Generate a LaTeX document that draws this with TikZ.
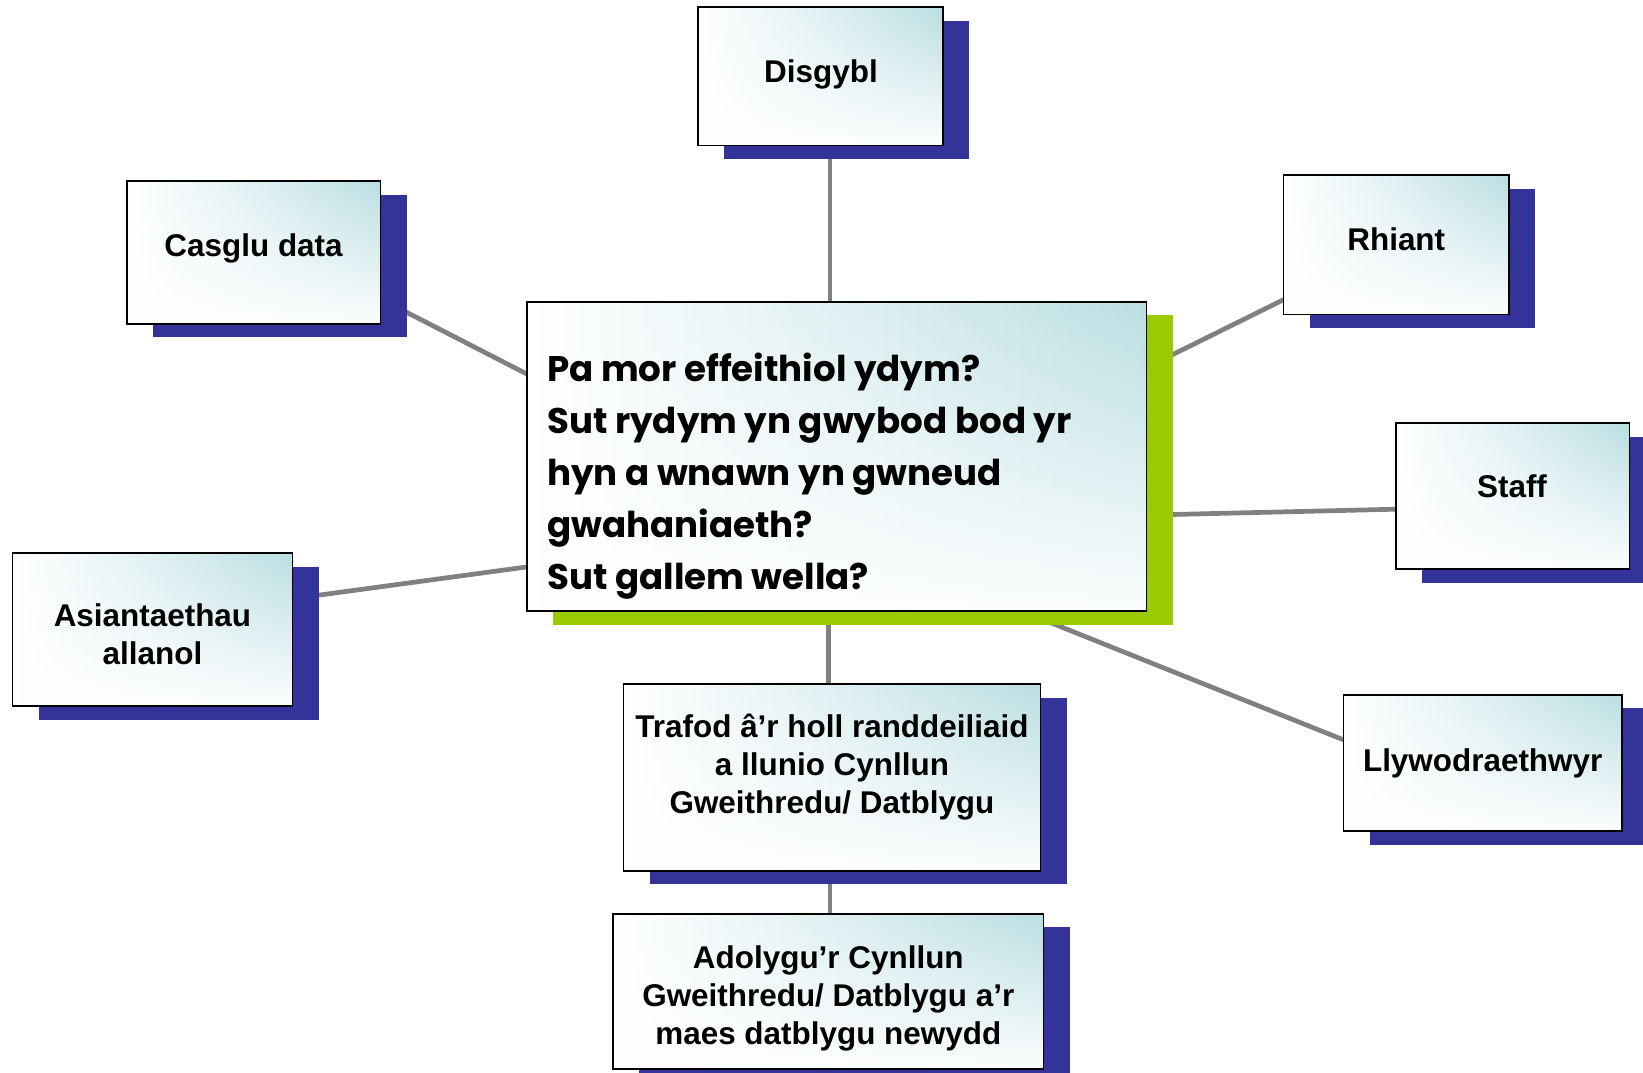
\documentclass[tikz,border=0pt]{standalone}
\usepackage{fontspec}
\setmainfont{Liberation Sans}
\newfontfamily\comicfont{Poppins}
\usetikzlibrary{shadows,fadings}
\definecolor{tealc}{RGB}{186,222,226}
\definecolor{shadowblue}{RGB}{51,51,153}
\definecolor{limeg}{RGB}{153,204,0}
\definecolor{linegray}{RGB}{128,128,128}
\tikzfading[name=fadeup, top color=transparent!100, middle color=transparent!55, bottom color=transparent!5]
\pgfdeclarelayer{bg}
\pgfsetlayers{bg,main}
\tikzset{
  boxbase/.style={rectangle, draw=black, line width=1.6pt, inner sep=0pt},
  boxfill/.style={preaction={left color=white, right color=tealc, middle color=tealc!45!white},
    preaction={fill=white, path fading=fadeup}},
  bluebox/.style={boxbase, general shadow={fill=shadowblue, shadow xshift=25pt, shadow yshift=-13pt}, boxfill},
  greenbox/.style={boxbase, general shadow={fill=limeg, shadow xshift=25pt, shadow yshift=-13pt}, boxfill},
  lbl/.style={font=\fontsize{30}{36}\selectfont\bfseries, align=center, inner sep=0pt},
  lblone/.style={lbl, text height=22pt, text depth=6pt},
  ctext/.style={font=\fontsize{34}{49.6}\selectfont\comicfont\bfseries, align=left, inner sep=0pt},
  conn/.style={draw=linegray, line width=4.5pt},
}
\begin{document}
\begin{tikzpicture}[x=1pt,y=1pt]
\useasboundingbox (0,0) rectangle (1568,-1024);
% boxes
\node[bluebox, minimum width=234pt, minimum height=132pt] (dis) at (783,-73) {};
\node[bluebox, minimum width=242pt, minimum height=136pt] (cas) at (242,-241) {};
\node[bluebox, minimum width=215pt, minimum height=133pt] (rhi) at (1332.5,-233.5) {};
\node[bluebox, minimum width=223pt, minimum height=139pt] (sta) at (1443.5,-473.5) {};
\node[bluebox, minimum width=266pt, minimum height=130pt] (lly) at (1415,-728) {};
\node[bluebox, minimum width=267pt, minimum height=146pt] (asi) at (145.5,-601) {};
\node[greenbox, minimum width=591pt, minimum height=295pt] (cen) at (798.5,-435.5) {};
\node[bluebox, minimum width=398pt, minimum height=178pt] (tra) at (794,-742) {};
\node[bluebox, minimum width=411pt, minimum height=148pt] (ado) at (790.5,-946) {};
% texts
\node[lblone] (dis-t) at (783.5,-71) {Disgybl};
\node[lblone] (cas-t) at (242,-237) {Casglu data};
\node[lblone] (rhi-t) at (1332.5,-231) {Rhiant};
\node[lblone] (sta-t) at (1443,-467) {Staff};
\node[lblone] (lly-t) at (1415,-728) {Llywodraethwyr};
\node[lbl] (asi-t) at (145.5,-605.5) {Asiantaethau\\allanol};
\node[lbl] (tra-t) at (794,-732) {Trafod â’r holl randdeiliaid\\a llunio Cynllun\\Gweithredu/ Datblygu};
\node[lbl] (ado-t) at (790.5,-953) {Adolygu’r Cynllun\\Gweithredu/ Datblygu a’r\\maes datblygu newydd};
\node[ctext, anchor=west] (cen-t) at (522,-454) {Pa mor effeithiol ydym?\\Sut rydym yn gwybod bod yr\\hyn a wnawn yn gwneud\\gwahaniaeth?\\Sut gallem wella?};
% connectors
\begin{pgfonlayer}{bg}
\fill[white] (0,0) rectangle (1568,-1024);
\draw[conn] ([xshift=9pt]dis.center) -- ([xshift=9pt]dis.center |- cen.center);
\draw[conn] ([shift={(108,-37.5)}]cas.center) -- ([shift={(-258.5,59.5)}]cen.center);
\draw[conn] ([shift={(114.5,27)}]asi.center) -- ([shift={(-258.5,-100.5)}]cen.center);
\draw[conn] ([shift={(-82.5,-40.1)}]rhi.center) -- ([shift={(261.5,67.8)}]cen.center);
\draw[conn] ([shift={(-83.5,-11.8)}]sta.center) -- ([shift={(261.5,-56.9)}]cen.center);
\draw[conn] ([shift={(-105,10.8)}]lly.center) -- ([shift={(151.5,-137.7)}]cen.center);
\draw[conn] ([xshift=-7.5pt]cen.center) -- ([xshift=-7.5pt]cen.center |- tra.center);
\draw[conn] ([xshift=-2pt]tra.center) -- ([xshift=-2pt]tra.center |- ado.center);
\end{pgfonlayer}
\end{tikzpicture}
\end{document}
